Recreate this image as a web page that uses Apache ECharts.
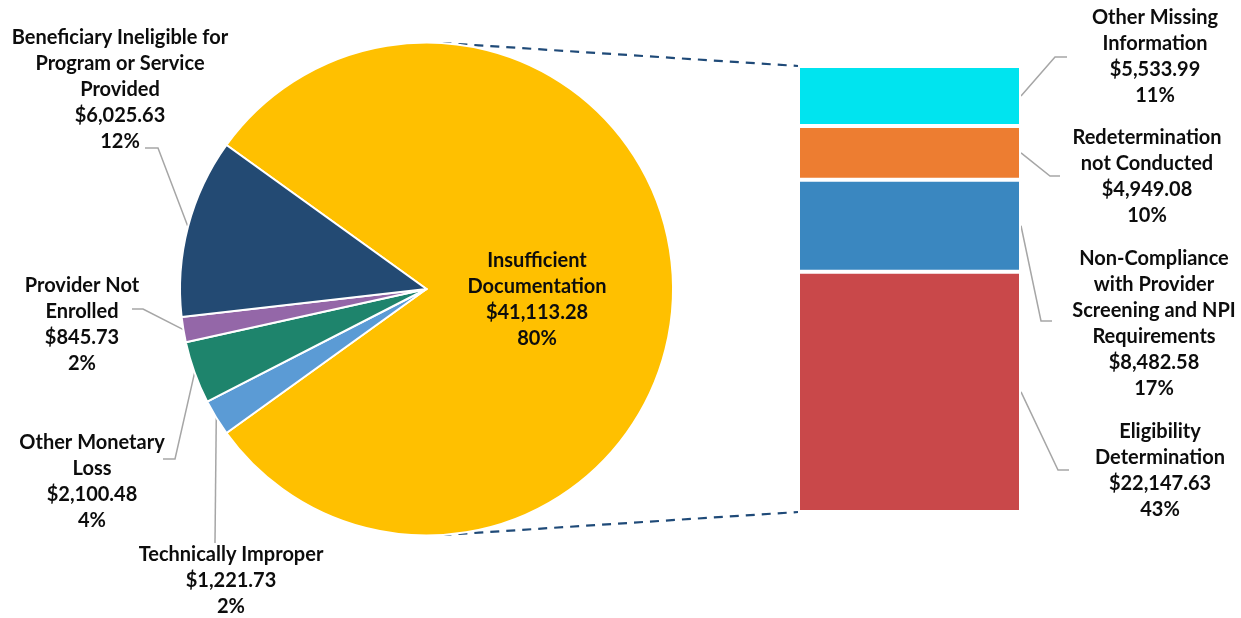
<!DOCTYPE html>
<html><head><meta charset="utf-8">
<script src="https://cdn.jsdelivr.net/npm/echarts@6/dist/echarts.min.js"></script>
<style>html,body{margin:0;padding:0;background:#fff}#c{width:1241px;height:618px}</style>
</head><body><div id="c"></div>
<script>
// ---- data ----
const pieNames = ['Insufficient\nDocumentation', 'Technically Improper', 'Other Monetary\nLoss', 'Provider Not\nEnrolled', 'Beneficiary Ineligible for\nProgram or Service\nProvided'];
const pieValues = [41113.28, 1221.73, 2100.48, 845.73, 6025.63];
const barNames = ['Eligibility\nDetermination', 'Non-Compliance\nwith Provider\nScreening and NPI\nRequirements', 'Redetermination\nnot Conducted', 'Other Missing\nInformation'];
const barValues = [22147.63, 8482.58, 4949.08, 5533.99];

// ---- styles / layout ----
const pieColors = ['#FFC000', '#5B9BD5', '#1E846C', '#9467A8', '#234A73'];
const barColors = ['#C9484A', '#3A87C0', '#ED7D31', '#00E4EF'];
const PIE_C = [426.5, 289], PIE_R = 246.5;
const GRID = { left: 798, top: 66, width: 223, height: 446 };
const pieLabelPos = [[537, 300], [231, 581], [92, 482], [82, 325], [120, 90]];
const barLabelPos = [[1160, 471], [1154, 324], [1147, 177], [1155, 57]];
// leader-line elbow and end points (label side)
const pieGuide = [null, [[215, 543], [215, 543]], [[175, 459], [163, 459]], [[143, 309], [132, 309]], [[158, 148], [145, 148]]];
const barGuide = [[[1058, 470], [1069, 470]], [[1041, 321], [1052, 321]], [[1050, 176], [1060, 176]], [[1055, 57], [1067, 57]]];
const FONT = 'Lato, "Open Sans", sans-serif';

const grandTotal = pieValues.reduce((a, b) => a + b, 0);
const barTotal = barValues.reduce((a, b) => a + b, 0);
const money = v => '$' + v.toLocaleString('en-US', { minimumFractionDigits: 2, maximumFractionDigits: 2 });
const pct = v => Math.round(v / grandTotal * 100) + '%';
const labelText = (name, v) => name + '\n' + money(v) + '\n' + pct(v);

const labelStyle = { fontFamily: FONT, fontWeight: 'bold', fontSize: 20, lineHeight: 26, color: '#0d0d0d', align: 'center', overflow: 'none' };
const lineStyle = { color: '#a6a6a6', width: 1.5 };

const startAngle = pieValues[0] / grandTotal * 180;
// mid-angle edge point of each slice (pie geometry)
function sliceEdgePoint(i) {
  let cum = 0;
  for (let k = 0; k < i; k++) cum += pieValues[k];
  const mid = (startAngle - (cum + pieValues[i] / 2) / grandTotal * 360) * Math.PI / 180;
  return [PIE_C[0] + PIE_R * Math.cos(mid), PIE_C[1] - PIE_R * Math.sin(mid)];
}

const chart = echarts.init(document.getElementById('c'), null, { renderer: 'canvas' });

const series = [];
series.push({
  type: 'pie',
  center: PIE_C,
  radius: PIE_R,
  startAngle: startAngle,
  clockwise: true,
  animation: false,
  itemStyle: { borderColor: '#fff', borderWidth: 2 },
  label: Object.assign({ show: true, position: 'outside', formatter: p => labelText(p.name, p.value) }, labelStyle),
  labelLine: { show: true, length: 10, length2: 10, lineStyle },
  labelLayout: p => {
    const i = p.dataIndex;
    const o = { x: pieLabelPos[i][0], y: pieLabelPos[i][1], align: 'center', verticalAlign: 'middle' };
    if (pieGuide[i]) o.labelLinePoints = [sliceEdgePoint(i), pieGuide[i][0], pieGuide[i][1]];
    return o;
  },
  emphasis: { disabled: true },
  data: pieValues.map((v, i) => ({
    name: pieNames[i], value: v, itemStyle: { color: pieColors[i] },
    labelLine: i === 0 ? { show: false } : undefined
  }))
});
barValues.forEach((v, i) => {
  series.push({
    type: 'bar', stack: 'other', barWidth: '100%', animation: false,
    name: barNames[i],
    itemStyle: { color: barColors[i], borderColor: '#fff', borderWidth: 2 },
    label: Object.assign({ show: true, position: 'right', formatter: () => labelText(barNames[i], v) }, labelStyle),
    labelLayout: { x: barLabelPos[i][0], y: barLabelPos[i][1], align: 'center', verticalAlign: 'middle' },
    emphasis: { disabled: true },
    data: [v]
  });
});

chart.setOption({
  backgroundColor: '#fff',
  animation: false,
  grid: { left: GRID.left, top: GRID.top, width: GRID.width, height: GRID.height },
  xAxis: { type: 'category', data: [''], show: false },
  yAxis: { type: 'value', min: 0, max: barTotal, show: false },
  series
});

// connector lines: tangents from bar corners to the pie circle
function tangentPoint(px, py) {
  const dx = px - PIE_C[0], dy = py - PIE_C[1];
  const d = Math.hypot(dx, dy);
  const base = Math.atan2(dy, dx);
  const a = Math.acos(PIE_R / d);
  const ang = dy < 0 ? base - a : base + a;
  return [PIE_C[0] + PIE_R * Math.cos(ang), PIE_C[1] + PIE_R * Math.sin(ang)];
}
const topPt = chart.convertToPixel({ gridIndex: 0 }, [0, barTotal]);
const botPt = chart.convertToPixel({ gridIndex: 0 }, [0, 0]);
const cornerTop = [GRID.left, topPt[1]];
const cornerBot = [GRID.left, botPt[1]];
const dash = { stroke: '#1F4A78', lineWidth: 2.2, lineDash: [9, 7] };
const graphics = [
  { type: 'polyline', shape: { points: [tangentPoint(...cornerTop), cornerTop] }, style: dash, silent: true },
  { type: 'polyline', shape: { points: [tangentPoint(...cornerBot), cornerBot] }, style: dash, silent: true }
];
// bar leader lines: from the right edge at each segment's middle to its label
let cum = 0;
barValues.forEach((v, i) => {
  const mid = chart.convertToPixel({ gridIndex: 0 }, [0, cum + v / 2]);
  cum += v;
  const start = [GRID.left + GRID.width, mid[1]];
  graphics.push({
    type: 'polyline', silent: true,
    shape: { points: [start, barGuide[i][0], barGuide[i][1]] },
    style: { stroke: lineStyle.color, lineWidth: lineStyle.width, fill: null }
  });
});
chart.setOption({ graphic: graphics });
</script>
</body></html>
